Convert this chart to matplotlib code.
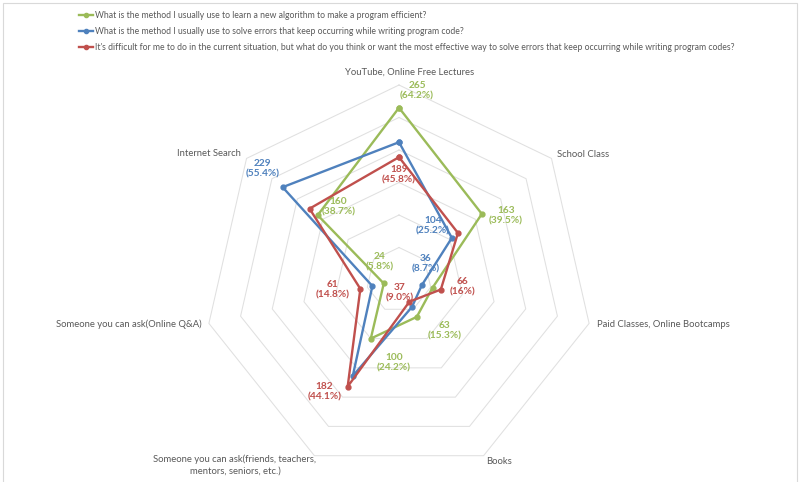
import matplotlib
matplotlib.use("Agg")
import matplotlib.pyplot as plt
from matplotlib.patches import Rectangle
from matplotlib.lines import Line2D
import numpy as np

plt.rcParams["font.family"] = ["Lato", "DejaVu Sans"]

# categories, clockwise from the top
categories = [
    "YouTube, Online Free Lectures",
    "School Class",
    "Paid Classes, Online Bootcamps",
    "Books",
    "Someone you can ask(friends, teachers,\nmentors, seniors, etc.)",
    "Someone you can ask(Online Q&A)",
    "Internet Search",
]
series_names = [
    "What is the method I usually use to learn a new algorithm to make a program efficient?",
    "What is the method I usually use to solve errors that keep occurring while writing program code?",
    "It's difficult for me to do in the current situation, but what do you think or want the most effective way to solve errors that keep occurring while writing program codes?",
]
learn_algo = [265, 163, 53, 63, 100, 24, 160]
solve_now = [212, 104, 36, 46, 164, 42, 229]
solve_want = [189, 116, 66, 37, 182, 61, 176]
series_vals = [learn_algo, solve_now, solve_want]
colors = ["#9BBB59", "#4F81BD", "#C0504D"]

# data labels shown on the chart: (series, category) -> text
shown_labels = {
    (0, 0): "265\n(64.2%)", (0, 1): "163\n(39.5%)", (0, 3): "63\n(15.3%)",
    (0, 4): "100\n(24.2%)", (0, 5): "24\n(5.8%)", (0, 6): "160\n(38.7%)",
    (1, 1): "104\n(25.2%)", (1, 2): "36\n(8.7%)", (1, 6): "229\n(55.4%)",
    (2, 0): "189\n(45.8%)", (2, 2): "66\n(16%)", (2, 3): "37\n(9.0%)",
    (2, 4): "182\n(44.1%)", (2, 5): "61\n(14.8%)",
}
# label offsets in pixels (dx, dy up)
label_offsets = {
    (0, 0): (18, 17), (0, 1): (24, -2), (0, 3): (28, -14),
    (0, 4): (23, -24), (0, 5): (-4, 22), (0, 6): (21, 8),
    (1, 1): (-19, 12), (1, 2): (4, 21), (1, 6): (-20, 18),
    (2, 0): (0, -18), (2, 2): (22, 3), (2, 3): (-10, 9),
    (2, 4): (-23, -5), (2, 5): (-28, -1),
}

R_MAX = 300
rings = [50, 100, 150, 200, 250, 300]
n = len(categories)
angles = np.pi / 2 - 2 * np.pi * np.arange(n) / n

W, H = 800, 482
cx, cy = 399, 280       # centre in pixels (from top-left)
scale = 195 / R_MAX     # pixels per unit

fig = plt.figure(figsize=(W / 100, H / 100), dpi=100)
ax = fig.add_axes([0, 0, 1, 1])
ax.set_xlim(-cx / scale, (W - cx) / scale)
ax.set_ylim(-(H - cy) / scale, cy / scale)
ax.axis("off")

px = 0.72  # points per pixel

# grid rings
for r in rings:
    xs = np.append(r * np.cos(angles), r * np.cos(angles[0]))
    ys = np.append(r * np.sin(angles), r * np.sin(angles[0]))
    ax.plot(xs, ys, color="#E0E0E0", lw=0.75, zorder=1)

# category labels
cat_style = [
    (11, 8, "center", "bottom"),
    (6, 4, "left", "center"),
    (8, -1, "left", "center"),
    (3, -6, "left", "center"),
    (2, 1, "right", "top"),
    (-7, -1, "right", "center"),
    (-6, 5, "right", "center"),
]
for i, lab in enumerate(categories):
    dx, dy, ha, va = cat_style[i]
    ax.annotate(lab, (R_MAX * np.cos(angles[i]), R_MAX * np.sin(angles[i])),
                xytext=(dx * px, dy * px), textcoords="offset points",
                ha=ha, va=va, fontsize=6.8, color="#595959",
                multialignment="center", linespacing=1.4)

# series
for k, vals in enumerate(series_vals):
    v = np.array(vals, dtype=float)
    xs = np.append(v * np.cos(angles), v[0] * np.cos(angles[0]))
    ys = np.append(v * np.sin(angles), v[0] * np.sin(angles[0]))
    ax.plot(xs, ys, color=colors[k], lw=1.7, marker="o", ms=3.5, zorder=3 + k)

for (k, i), txt in shown_labels.items():
    v = series_vals[k][i]
    dx, dy = label_offsets[(k, i)]
    ax.annotate(txt, (v * np.cos(angles[i]), v * np.sin(angles[i])),
                xytext=(dx * px, dy * px), textcoords="offset points",
                ha="center", va="center", fontsize=7.3, color=colors[k],
                fontweight="bold", linespacing=1.2, zorder=10)

# legend
for k, name in enumerate(series_names):
    y = 1 - (15 + 16 * k) / H
    fig.add_artist(Line2D([79 / W, 93 / W], [y, y], color=colors[k], lw=1.7,
                          transform=fig.transFigure))
    fig.add_artist(Line2D([86 / W], [y], color=colors[k], marker="o", ms=3,
                          transform=fig.transFigure))
    fig.text(95 / W, y, name, fontsize=6.2, color="#595959", va="center", ha="left")

fig.add_artist(Rectangle((3 / W, -0.01), (W - 6) / W, 1 - 3 / H + 0.01,
                         transform=fig.transFigure, fill=False,
                         edgecolor="#D9D9D9", lw=0.8))

fig.savefig("out.png", dpi=100)
